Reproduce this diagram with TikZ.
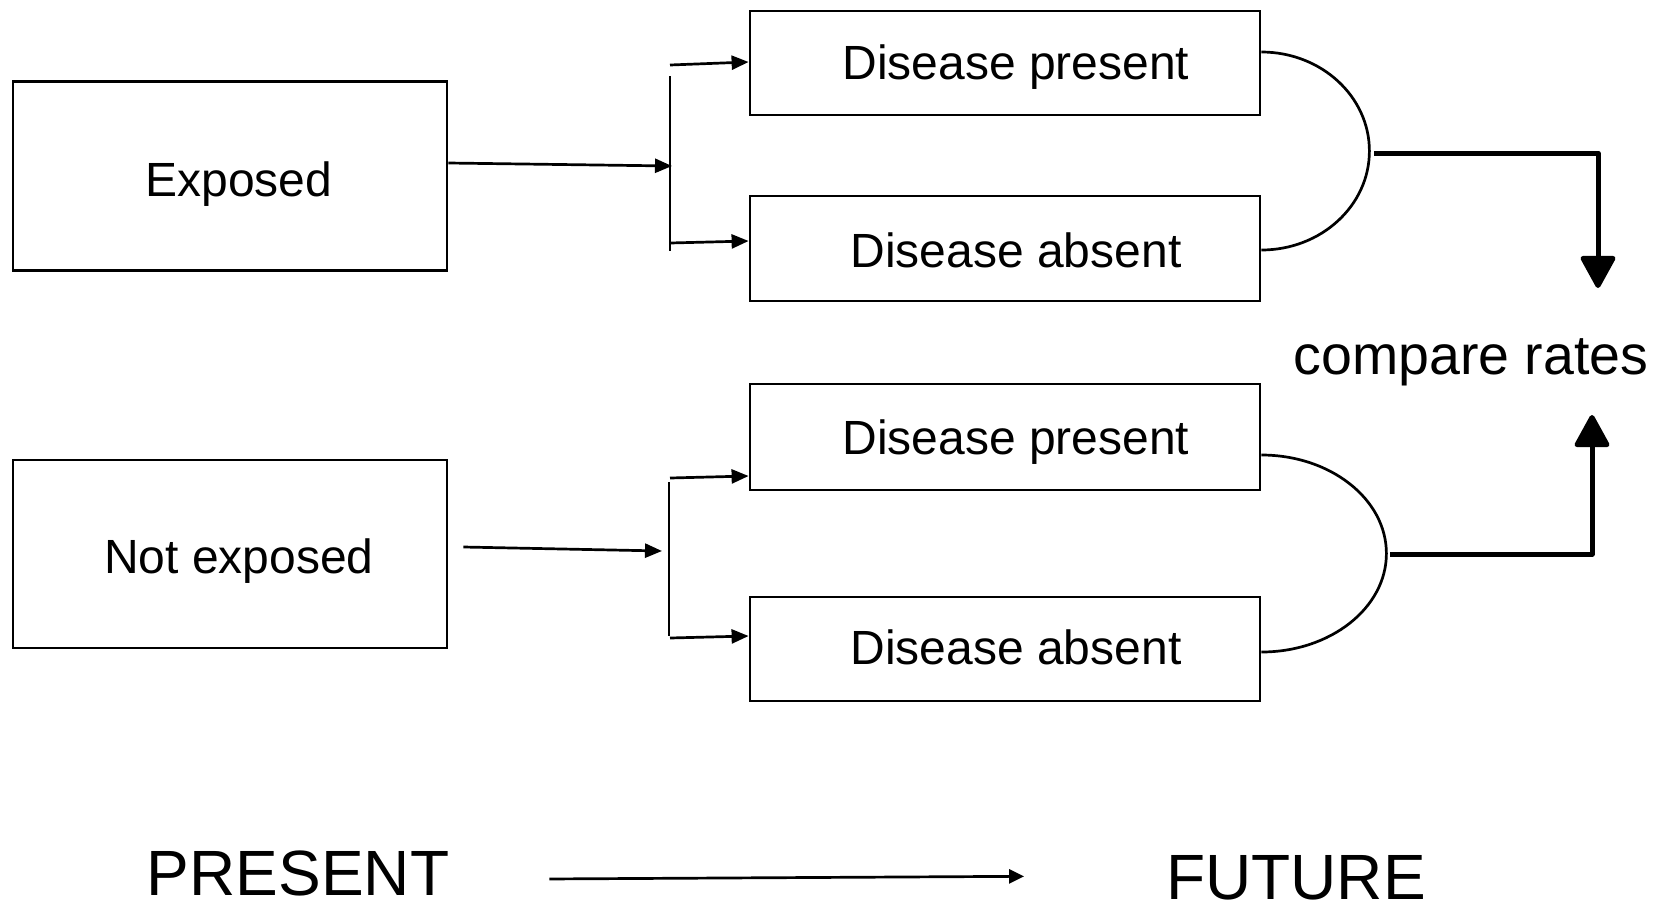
\documentclass[tikz,border=0pt]{standalone}
\usepackage{fontspec}
\setmainfont{Liberation Sans}
\usetikzlibrary{arrows.meta}
\begin{document}
\begin{tikzpicture}[x=1pt,y=-1pt,
  box/.style={draw, line width=2.8pt, rectangle, inner sep=0pt, minimum width=#1},
  boxtext/.style={anchor=base, inner sep=0pt, font=\fontsize{48}{57}\selectfont},
  bigtext/.style={anchor=base, inner sep=0pt, font=\fontsize{64}{76}\selectfont},
  thinarrow/.style={line width=2.7pt, -{Triangle[length=17pt,width=14pt]}},
  bar/.style={line width=2.7pt},
  bracearc/.style={line width=2.7pt},
  thickarrow/.style={line width=5pt, line join=round, -{Triangle[length=35pt,width=37pt,round]}}]
\useasboundingbox (0,0) rectangle (1670,906);

% exposure groups
\node[box=434pt, minimum height=189pt] (exp)  at (230,176) {};
\node[box=434pt, minimum height=188pt] (nexp) at (230,554) {};
\node[boxtext] (expT)  at (239,196) {Exposed};
\node[boxtext] (nexpT) at (239,573) {Not exposed};

% outcome boxes
\node[box=510pt, minimum height=104pt] (dp1) at (1005,63) {};
\node[box=510pt, minimum height=105pt] (da1) at (1005,248.5) {};
\node[box=510pt, minimum height=106pt] (dp2) at (1005,437) {};
\node[box=510pt, minimum height=104pt] (da2) at (1005,649) {};
\node[boxtext] (dp1T) at (1016,79)  {Disease present};
\node[boxtext] (da1T) at (1016,267) {Disease absent};
\node[boxtext] (dp2T) at (1016,454) {Disease present};
\node[boxtext] (da2T) at (1016,664) {Disease absent};

% branching brackets
\coordinate (j1)  at (672,166);
\coordinate (b1t) at (670,76);
\coordinate (b1b) at (670,251);
\coordinate (u1)  at (670,65);
\coordinate (l1)  at (670,243);
\coordinate (j2)  at (662,551);
\coordinate (b2t) at (669,482);
\coordinate (b2b) at (669,636);
\coordinate (u2)  at (670,478);
\coordinate (l2)  at (670,638);

\draw[thinarrow] ([yshift=13pt]exp.east) -- (j1);
\draw[bar] (b1t) -- (b1b);
\draw[thinarrow] (u1) -- ([yshift=1pt]dp1.west);
\draw[thinarrow] (l1) -- ([yshift=7.5pt]da1.west);

\draw[thinarrow] ([shift={(15,-7)}]nexp.east) -- (j2);
\draw[bar] (b2t) -- (b2b);
\draw[thinarrow] (u2) -- ([yshift=-39pt]dp2.west);
\draw[thinarrow] (l2) -- ([yshift=13pt]da2.west);

% grouping arcs
\draw[bracearc] ([yshift=11pt]dp1.east) arc[start angle=90, end angle=-90, x radius=108pt, y radius=99pt];
\draw[bracearc] ([yshift=-18pt]dp2.east) arc[start angle=90, end angle=-90, x radius=125pt, y radius=98.5pt];

% comparison arrows
\node[anchor=base, inner sep=0pt, font=\fontsize{55.5}{66}\selectfont] (cmp) at (1471,374) {compare rates};
\coordinate (r1) at (1374,153);
\coordinate (t1) at (1598,288);
\coordinate (r2) at (1390,554);
\coordinate (t2) at (1592,415);
\draw[thickarrow] (r1) -| (t1);
\draw[thickarrow] (r2) -| (t2);

% time axis
\node[bigtext] (pres) at (298,895) {PRESENT};
\node[bigtext] (fut)  at (1296,899) {FUTURE};
\draw[line width=2.7pt, -{Triangle[length=15pt,width=14pt]}] ([shift={(100,6)}]pres.east) -- ([shift={(-142,-1)}]fut.west);
\end{tikzpicture}
\end{document}
